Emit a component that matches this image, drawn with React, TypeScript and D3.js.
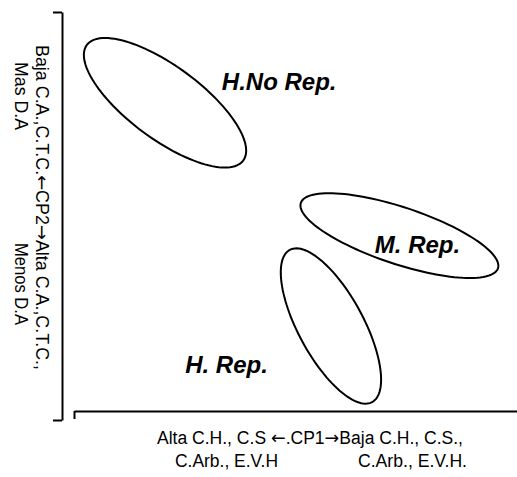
import React, { useEffect, useRef } from 'react';
import * as d3 from 'd3';

const width = 517;
const height = 477;

// grupos sobre el plano CP1 / CP2 (unidades de puntuación)
const groups = ['H.No Rep.', 'M. Rep.', 'H. Rep.'];
const centerCP1 = [-3.24, 2.58, 0.88];
const centerCP2 = [2.83, -0.49, -2.75];
const semiMajor = [2.42, 2.58, 2.16];
const semiMinor = [0.91, 0.71, 0.81];
const tiltDeg = [-36.7, -18.5, -61.8];
const labelCP1 = [-1.83, 1.97, -2.74];
const labelCP2 = [3.15, -0.93, -3.93];

// títulos de ejes, partidos alrededor de las flechas
const xTitle = ['Alta C.H., C.S ', '\u2190', '.CP1', '\u2192', 'Baja C.H., C.S.,'];
const xTitle2 = ['C.Arb., E.V.H', 'C.Arb., E.V.H.'];
const yTitle = ['Baja C.A.,C.T.C.', '\u2190', 'CP2', '\u2192', 'Alta C.A.,C.T.C.,'];
const yTitle2 = ['Mas D.A', 'Menos D.A'];

const font = 'Liberation Sans, Arial, sans-serif';
const arrowFont = 'DejaVu Sans, sans-serif';

export default function App() {
  const xAxisRef = useRef<SVGGElement>(null);
  const yAxisRef = useRef<SVGGElement>(null);

  let x = d3.scaleLinear().domain([-5.5, 5.5]).range([74, 517]);
  let y = d3.scaleLinear().domain([-5.1, 5.1]).range([420, 12]);

  useEffect(() => {
    let yAxis = d3.axisLeft(y)
      .tickValues(y.domain())
      .tickSize(9)
      .tickSizeOuter(0)
      .tickFormat(() => '');
    let xAxis = d3.axisBottom(x)
      .tickValues([x.domain()[0]])
      .tickSize(8)
      .tickSizeOuter(0)
      .tickFormat(() => '');

    d3.select(yAxisRef.current).call(yAxis as any)
      .selectAll('path, line').attr('stroke', '#000').attr('stroke-width', 2);
    d3.select(xAxisRef.current).call(xAxis as any)
      .selectAll('path, line').attr('stroke', '#000').attr('stroke-width', 2);
  }, []);

  let line = d3.line<[number, number]>()
    .x(d => x(d[0]))
    .y(d => y(d[1]))
    .curve(d3.curveLinearClosed);

  let ellipse = (i: number) => {
    let th = tiltDeg[i] * Math.PI / 180;
    let pts = d3.range(0, 360, 3).map(deg => {
      let t = deg * Math.PI / 180
        , u = semiMajor[i] * Math.cos(t)
        , v = semiMinor[i] * Math.sin(t);
      return [
        centerCP1[i] + u * Math.cos(th) - v * Math.sin(th),
        centerCP2[i] + u * Math.sin(th) + v * Math.cos(th)
      ] as [number, number];
    });
    return line(pts) || '';
  };

  let parts = (arr: string[]) => arr.map((s, i) => (
    <tspan key={i} fontFamily={i % 2 ? arrowFont : font}>{s}</tspan>
  ));

  return (
    <svg width={width} height={height} style={{ position: 'absolute', left: 0, top: 0, background: '#fff' }}>
      <g ref={yAxisRef} transform="translate(62,0)" />
      <g ref={xAxisRef} transform="translate(0,411)" />

      {groups.map((g, i) => (
        <g key={g}>
          <path d={ellipse(i)} fill="none" stroke="#000" strokeWidth={2} />
          <text x={x(labelCP1[i])} y={y(labelCP2[i])} fontFamily={font} fontSize={24}
            fontWeight="bold" fontStyle="italic" fill="#000">{g}</text>
        </g>
      ))}

      <g fontFamily={font} fontSize={18} fill="#000">
        <text x={157} y={444} textLength={306} lengthAdjust="spacingAndGlyphs">{parts(xTitle)}</text>
        <text x={175} y={467} textLength={103} lengthAdjust="spacingAndGlyphs">{xTitle2[0]}</text>
        <text x={358} y={467} textLength={109} lengthAdjust="spacingAndGlyphs">{xTitle2[1]}</text>

        <text transform="translate(36,45) rotate(90)" textLength={325} lengthAdjust="spacingAndGlyphs">{parts(yTitle)}</text>
        <text transform="translate(15,62) rotate(90)" textLength={68} lengthAdjust="spacingAndGlyphs">{yTitle2[0]}</text>
        <text transform="translate(15,243) rotate(90)" textLength={82} lengthAdjust="spacingAndGlyphs">{yTitle2[1]}</text>
      </g>
    </svg>
  );
}
